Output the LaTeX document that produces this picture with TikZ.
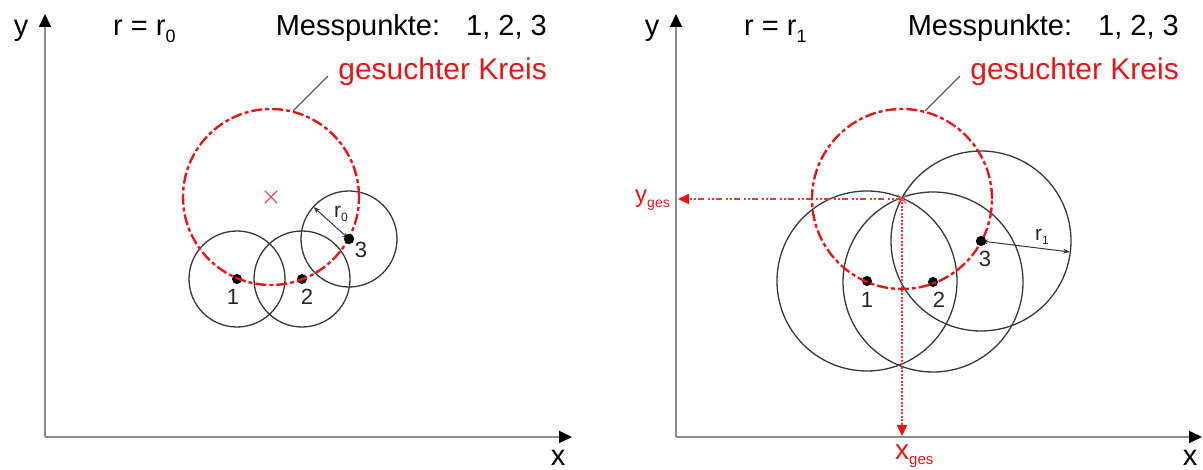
\documentclass[tikz,border=0pt]{standalone}
\usepackage{fontspec}
\setmainfont{Liberation Sans}
\usetikzlibrary{arrows.meta,shapes.misc}
\definecolor{cred}{RGB}{226,24,24}
\definecolor{cgray}{RGB}{140,140,140}
\definecolor{cline}{RGB}{55,55,55}
\newcommand{\fs}[1]{\fontsize{#1}{#1}\selectfont}
\newcommand{\subtxt}[3]{\raisebox{-#2pt}{\fontsize{#1}{#1}\selectfont #3}}
\tikzset{
  axis/.style={draw=cgray, line width=1.8pt, -{Triangle[length=13pt,width=12pt,color=black]}},
  axislabel/.style={font=\fs{29}, inner sep=0pt, anchor=base},
  title/.style={font=\fs{29}, inner sep=0pt},
  redtitle/.style={font=\fs{30}, inner sep=0pt, text=cred},
  redcircle/.style={draw=cred, line width=2.4pt, dash pattern=on 11pt off 3pt on 4pt off 3pt},
  mcircle/.style={draw=cline, line width=1.3pt},
  mpoint/.style={circle, fill=black, inner sep=0pt, minimum size=10pt},
  numlabel/.style={font=\fs{22}, inner sep=0pt, text=black!85},
  rlabel/.style={font=\fs{21}, inner sep=0pt, text=black!85},
  leader/.style={draw=black!65, line width=1.3pt},
  rarrow/.style={draw=cline, line width=1pt, {Stealth[length=7pt,width=5pt]}-{Stealth[length=7pt,width=5pt]}},
  redcross/.style={draw=cred!75, cross out, line width=1.3pt, inner sep=0pt},
  hdots/.style={draw=cred!85, line width=2pt, dash pattern=on 6pt off 2pt on 2pt off 2pt on 2pt off 4pt, -{Triangle[length=11pt,width=10pt,color=cred]}},
  vdots/.style={draw=cred!85, line width=2pt, dash pattern=on 2pt off 1.5pt, -{Triangle[length=11pt,width=10pt,color=cred]}},
}
\begin{document}
\begin{tikzpicture}[x=1pt,y=-1pt]
\useasboundingbox (0,0) rectangle (1203,470);

% ---------------- left panel ----------------
\coordinate (oL) at (45,437);
\coordinate (yL) at (45,14);
\coordinate (xL) at (572,437);
\draw[axis] (oL) -- (yL);
\draw[axis] (oL) -- (xL);
\node[axislabel] (ylabL) at (21,36) {y};
\node[axislabel] (xlabL) at (558,465) {x};

\node[title, anchor=base west] (rL) at (113,36) {r = r\subtxt{18}{7}{0}};
\node[title, anchor=base east] (mL) at (547,36) {Messpunkte:\hspace{26pt}1, 2, 3};
\node[redtitle, anchor=base east] (gL) at (547,80) {gesuchter Kreis};

\coordinate (cL) at (271,197);
\node[redcross, minimum size=11pt] (xcL) at (cL) {};

\node[mpoint] (p1L) at (237,279) {};
\node[mpoint] (p2L) at (302,279) {};
\node[mpoint] (p3L) at (349,239) {};

\draw[mcircle] (p1L.center) circle[radius=48pt];
\draw[mcircle] (p2L.center) circle[radius=48pt];
\draw[mcircle] (p3L.center) circle[radius=48pt];
\draw[redcircle] (cL) circle[radius=88pt];

\coordinate (r0end) at (313.5,207);
\draw[rarrow] (p3L.center) -- (r0end);
\node[mpoint] at (p3L) {};
\node[rlabel] (r0lab) at (341,214) {r\subtxt{12}{4}{0}};

\node[numlabel] (n1L) at (233,297) {1};
\node[numlabel] (n2L) at (307,297) {2};
\node[numlabel] (n3L) at (361,250) {3};

\coordinate (kL) at (293,111);
\coordinate (kL2) at (328,76);
\draw[leader] (kL) -- (kL2);

% ---------------- right panel ----------------
\coordinate (oR) at (676,437);
\coordinate (yR) at (676,14);
\coordinate (xR) at (1202,437);
\draw[axis] (oR) -- (yR);
\draw[axis] (oR) -- (xR);
\node[axislabel] (ylabR) at (652,36) {y};
\node[axislabel] (xlabR) at (1190,465) {x};

\node[title, anchor=base west] (rR) at (744,36) {r = r\subtxt{18}{7}{1}};
\node[title, anchor=base east] (mR) at (1179,36) {Messpunkte:\hspace{26pt}1, 2, 3};
\node[redtitle, anchor=base east] (gR) at (1179,80) {gesuchter Kreis};

\coordinate (cR) at (902,199);

\node[mpoint] (p1R) at (867,281) {};
\node[mpoint] (p2R) at (933,282) {};
\node[mpoint] (p3R) at (981,241) {};

\draw[mcircle] (p1R.center) circle[radius=90pt];
\draw[mcircle] (p2R.center) circle[radius=90pt];
\draw[mcircle] (p3R.center) circle[radius=90pt];

\coordinate (ygesC) at (678,199);
\coordinate (xgesC) at (902,436);
\draw[hdots] (cR) -- (ygesC);
\draw[vdots] (cR) -- (xgesC);
\draw[redcircle] (cR) circle[radius=90pt];
\node[redcross, minimum size=7pt] (xcR) at (cR) {};

\coordinate (r1end) at (1070,252);
\draw[rarrow] (p3R.center) -- (r1end);
\node[mpoint] at (p3R) {};
\node[rlabel] (r1lab) at (1042,237) {r\subtxt{12}{4}{1}};

\node[numlabel] (n1R) at (867,300) {1};
\node[numlabel] (n2R) at (939,300) {2};
\node[numlabel] (n3R) at (985,259) {3};

\node[font=\fs{24}, text=cred, inner sep=0pt, anchor=east] (yges) at (670,200) {y\subtxt{14}{5}{ges}};
\node[font=\fs{28}, text=cred, inner sep=0pt, anchor=base west] (xges) at (895,460) {x\subtxt{15}{5}{ges}};

\coordinate (kR) at (925,111);
\coordinate (kR2) at (960,76);
\draw[leader] (kR) -- (kR2);
\end{tikzpicture}
\end{document}
